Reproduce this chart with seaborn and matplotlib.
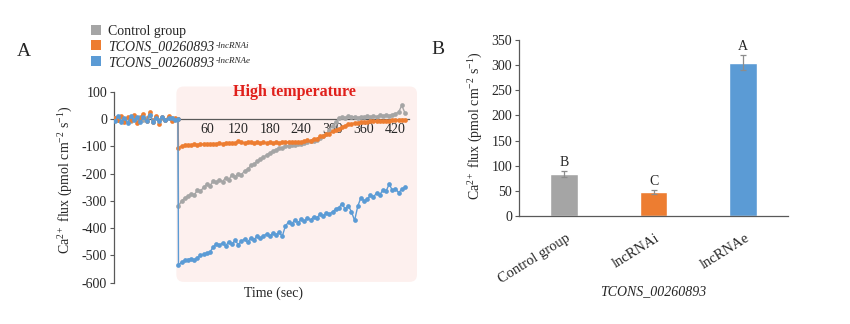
import numpy as np
import pandas as pd
import matplotlib
matplotlib.use("Agg")
import matplotlib.pyplot as plt
import matplotlib.transforms as mtransforms
import seaborn as sns
from matplotlib.patches import FancyBboxPatch
from matplotlib.lines import Line2D

# ---------------- data ----------------
groups = ["Control group", "lncRNAi", "lncRNAe"]
colors = ["#A5A5A5", "#ED7D31", "#5B9BD5"]
legend_names = ["Control group", "TCONS_00260893", "TCONS_00260893"]
legend_sups = ["", "-lncRNAi", "-lncRNAe"]

base_t = list(range(-115, 6, 6))      # before heat (s)
heat_t = list(range(6, 439, 6))       # during high temperature (s)

control_base = [2, -3, 5, -2, 4, -6, 3, 0, 8, -4, 5, 15, -3, 6, -2, 4, -5, 3, 2, -1, 0]
lncrnai_base = [5, -5, 10, -12, 8, -3, 15, -15, 5, 20, -8, 25, -10, 12, -18, 6, -5, 10, -8, 3, 0]
lncrnae_base = [-8, 12, -10, 5, -15, 10, -5, 8, -12, 6, -8, 14, -10, 4, -6, 9, -4, 2, 5, -3, 0]

control_heat = [-320, -300, -290, -282, -275, -278, -262, -265, -250, -240,
                -245, -228, -232, -222, -230, -215, -222, -205, -212, -200,
                -205, -190, -185, -170, -165, -155, -148, -140, -132, -125,
                -118, -112, -105, -108, -100, -98, -95, -97, -92, -90,
                -87, -85, -82, -80, -76, -70, -62, -55, -40, -25,
                -10, 2, 8, 5, 10, 6, 9, 4, 8, 6,
                10, 7, 12, 9, 13, 10, 14, 12, 16, 20,
                25, 50, 22]
lncrnai_heat = [-105, -100, -97, -96, -95, -93, -94, -92, -93, -91,
                -92, -90, -91, -89, -90, -88, -89, -87, -88, -80,
                -86, -87, -85, -86, -88, -86, -87, -85, -87, -86,
                -88, -86, -87, -85, -86, -84, -86, -85, -83, -84,
                -82, -78, -80, -72, -72, -64, -64, -55, -54, -45,
                -42, -36, -30, -24, -20, -17, -15, -13, -12, -11,
                -10, -9, -9, -8, -8, -7, -6, -6, -5, -4,
                -3, -2, -2]
lncrnae_heat = [-535, -525, -518, -515, -512, -516, -508, -500, -495, -492,
                -488, -470, -458, -462, -455, -465, -450, -458, -445, -460,
                -448, -440, -452, -435, -442, -430, -438, -428, -422, -430,
                -418, -425, -415, -430, -392, -378, -385, -370, -380, -368,
                -375, -362, -370, -358, -362, -350, -355, -345, -348, -340,
                -330, -325, -310, -330, -318, -340, -372, -320, -288, -300,
                -295, -280, -285, -272, -278, -260, -265, -238, -262, -255,
                -270, -258, -250]

a_xticks = [60, 120, 180, 240, 300, 360, 420]
a_yticks = [100, 0, -100, -200, -300, -400, -500, -600]

bar_means = [83.5, 47.7, 305.0]
bar_errs = [5.0, 4.0, 15.0]
bar_letters = ["B", "C", "A"]
b_yticks = [0, 50, 100, 150, 200, 250, 300, 350]

# ---------------- style ----------------
sns.set_style("white")
plt.rcParams["font.family"] = ["Liberation Serif", "DejaVu Serif"]
plt.rcParams["mathtext.fontset"] = "custom"
plt.rcParams["mathtext.rm"] = "Liberation Serif"
plt.rcParams["mathtext.it"] = "Liberation Serif:italic"
plt.rcParams["mathtext.bf"] = "Liberation Serif:bold"

FS = 10
W, H = 850, 324
fig = plt.figure(figsize=(8.5, 3.24), dpi=100)

# ---------------- panel A ----------------
axA = fig.add_axes([114 / W, 1 - 282.7 / H, (408.6 - 114) / W, (282.7 - 91.7) / H])

rows = []
series = [(control_base, control_heat), (lncrnai_base, lncrnai_heat), (lncrnae_base, lncrnae_heat)]
for g, (b, h) in zip(groups, series):
    for t, v in zip(base_t + heat_t, b + h):
        rows.append((g, t, v))
dfA = pd.DataFrame(rows, columns=["group", "t", "flux"])

# pink high temperature box
box = FancyBboxPatch((2, -597), 459, 716, boxstyle="round,pad=0,rounding_size=14",
                     transform=axA.transData, facecolor="#FDF0EE", edgecolor="none",
                     clip_on=False, zorder=0, mutation_aspect=1.9)
axA.add_patch(box)

sns.lineplot(data=dfA, x="t", y="flux", hue="group", hue_order=groups,
             palette=colors, marker="o", markersize=3.4, markeredgewidth=0,
             linewidth=1.0, estimator=None, legend=False, ax=axA, zorder=3)

axA.set_xlim(-117, 445)
axA.set_ylim(-600, 100)
axA.set_facecolor("none")
axA.spines["top"].set_visible(False)
axA.spines["right"].set_visible(False)
axA.spines["bottom"].set_position(("data", 0))
for s in ["left", "bottom"]:
    axA.spines[s].set_color("#595959")
    axA.spines[s].set_linewidth(0.9)
    axA.spines[s].set_zorder(2)
axA.set_xticks(a_xticks)
axA.set_xticklabels([str(v) for v in a_xticks], fontsize=FS)
axA.set_yticks(a_yticks)
axA.set_yticklabels([str(v) for v in a_yticks], fontsize=FS)
axA.tick_params(axis="x", direction="in", length=3, width=0.8, color="#595959", pad=3)
axA.tick_params(axis="y", direction="out", length=3, width=0.8, color="#595959", pad=2, left=True)
axA.set_xlabel("")
axA.set_ylabel("")

fig.text(294 / W, 1 - 92 / H, "High temperature", color="#E0201B", fontsize=11.5,
         fontweight="bold", ha="center", va="center")

fig.text(273 / W, 1 - 293 / H, "Time (sec)", fontsize=FS, ha="center", va="center")
fig.text(66 / W, 1 - 180 / H, r"Ca$^{2+}$ flux (pmol cm$^{-2}$ s$^{-1}$)", fontsize=FS,
         rotation=90, ha="center", va="center")
fig.text(24 / W, 1 - 51 / H, "A", fontsize=14, ha="center", va="center")

handles = [Line2D([], [], linestyle="none", marker="s", markersize=7, markerfacecolor=c,
                  markeredgewidth=0) for c in colors]
leg = fig.legend(handles, legend_names, loc="upper left", bbox_to_anchor=(90 / W, 1 - 25 / H),
                 frameon=False, fontsize=FS, handlelength=0.8, handletextpad=0.5,
                 labelspacing=0.17, borderpad=0, borderaxespad=0)
for i, t in enumerate(leg.get_texts()):
    if i > 0:
        t.set_fontstyle("italic")

fig.canvas.draw()
renderer = fig.canvas.get_renderer()
for t, sup in zip(leg.get_texts(), legend_sups):
    if sup:
        bb = t.get_window_extent(renderer)
        fig.text((bb.x1 + 1) / W, (bb.y1 - 1.5) / H, sup, fontsize=6.5, style="italic",
                 ha="left", va="top")

# ---------------- panel B ----------------
axB = fig.add_axes([519 / W, 1 - 216 / H, 269 / W, 176 / H])
dfB = pd.DataFrame({"group": groups, "flux": bar_means})
sns.barplot(data=dfB, x="group", y="flux", hue="group", hue_order=groups, order=groups,
            palette=colors, width=0.31, legend=False, ax=axB, saturation=1)
axB.errorbar(range(len(groups)), bar_means, yerr=bar_errs, fmt="none",
             ecolor="#8C8C8C", elinewidth=0.9, capsize=2.5, capthick=0.9, zorder=4)
for i, (m, e, L) in enumerate(zip(bar_means, bar_errs, bar_letters)):
    axB.text(i, m + e + 4, L, ha="center", va="bottom", fontsize=FS)

axB.set_xlim(-0.5, 2.5)
axB.set_ylim(0, 350)
axB.set_yticks(b_yticks)
axB.set_yticklabels([str(v) for v in b_yticks], fontsize=FS)
axB.spines["top"].set_visible(False)
axB.spines["right"].set_visible(False)
for s in ["left", "bottom"]:
    axB.spines[s].set_color("#595959")
    axB.spines[s].set_linewidth(0.9)
axB.tick_params(axis="y", direction="out", length=3, width=0.8, color="#595959", pad=2, left=True)
axB.tick_params(axis="x", length=0, pad=15)
axB.set_xticks(range(len(groups)))
axB.set_xticklabels(groups, fontsize=10.5, rotation=32, ha="right", va="center",
                    rotation_mode="anchor")
shift = mtransforms.ScaledTranslation(5 / 100, 0, fig.dpi_scale_trans)
for lab in axB.get_xticklabels():
    lab.set_transform(lab.get_transform() + shift)
axB.set_xlabel("")
axB.set_ylabel("")
fig.text(476 / W, 1 - 126 / H, r"Ca$^{2+}$ flux (pmol cm$^{-2}$ s$^{-1}$)", fontsize=FS,
         rotation=90, ha="center", va="center")
fig.text(653.5 / W, 1 - 292 / H, "TCONS_00260893", fontsize=FS, style="italic",
         ha="center", va="center")
fig.text(438 / W, 1 - 50 / H, "B", fontsize=14, ha="center", va="center")

fig.savefig("out.png", dpi=100)
